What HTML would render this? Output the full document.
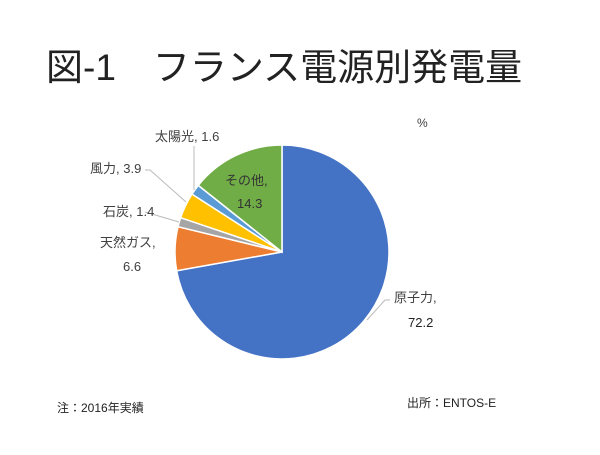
<!DOCTYPE html>
<html><head><meta charset="utf-8"><style>
body{margin:0;width:600px;height:450px;background:#fff;overflow:hidden;font-family:"Liberation Sans","Noto Sans CJK JP",sans-serif}
</style></head><body>
<svg width="600" height="450" xmlns="http://www.w3.org/2000/svg" font-family="Liberation Sans, Noto Sans CJK JP, sans-serif">
<text x="46" y="80" font-size="37" fill="#222">図-1　フランス電源別発電量</text>
<g stroke="#fff" stroke-width="1.5">
<path d="M282,252 L282,145 A107,107 0 1 1 176.65,270.73 Z" fill="#4472C4"/>
<path d="M282,252 L176.65,270.73 A107,107 0 0 1 178.04,226.69 Z" fill="#ED7D31"/>
<path d="M282,252 L178.04,226.69 A107,107 0 0 1 180.66,217.65 Z" fill="#A5A5A5"/>
<path d="M282,252 L180.66,217.65 A107,107 0 0 1 192.01,194.11 Z" fill="#FFC000"/>
<path d="M282,252 L192.01,194.11 A107,107 0 0 1 198.28,185.36 Z" fill="#5B9BD5"/>
<path d="M282,252 L198.28,185.36 A107,107 0 0 1 282,145 Z" fill="#70AD47"/>
</g>
<g stroke="#bbb" stroke-width="1" fill="none">
<polyline points="194,190 194,146"/>
<polyline points="186,202 150,170 145,170"/>
<polyline points="179,222 145,212"/>
<polyline points="367,320 385,300 390,300"/>
</g>
<g font-size="13" fill="#404040">
<text x="155" y="141">太陽光, 1.6</text>
<text x="90" y="173">風力, 3.9</text>
<text x="103" y="216">石炭, 1.4</text>
<text x="100" y="247">天然ガス,</text>
<text x="123" y="271">6.6</text>
<text x="225" y="185" fill="#333">その他,</text>
<text x="237" y="208" fill="#333">14.3</text>
<text x="394" y="302">原子力,</text>
<text x="408" y="327" fill="#222">72.2</text>
<text x="417" y="127" font-size="12">%</text>
<text x="57" y="412" font-size="12" fill="#222">注：2016年実績</text>
<text x="407" y="407" font-size="12" fill="#222">出所：ENTOS-E</text>
</g>
</svg>
</body></html>
